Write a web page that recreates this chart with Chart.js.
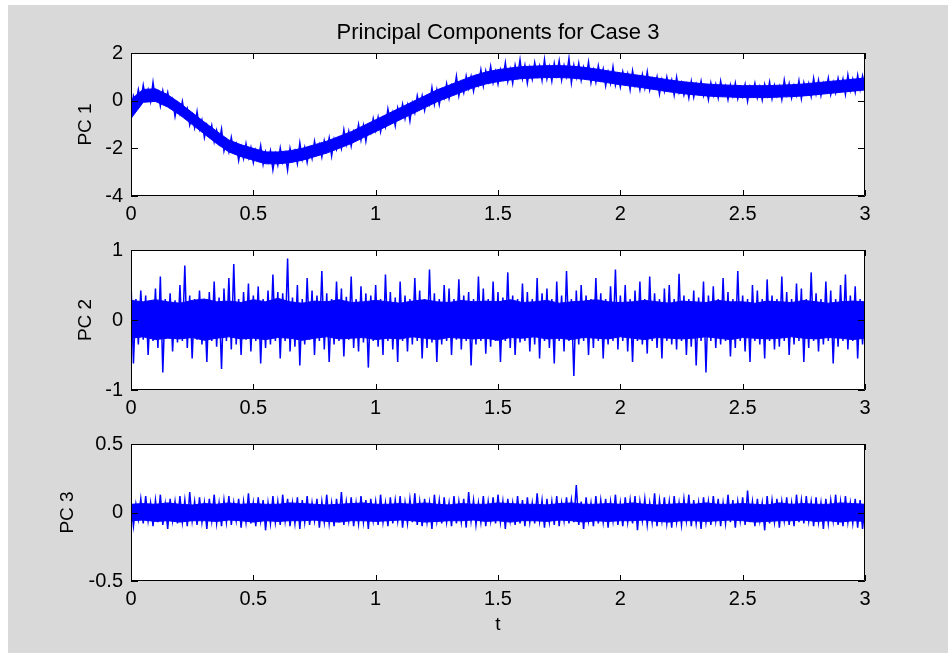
<!DOCTYPE html>
<html>
<head>
<meta charset="utf-8">
<script src="https://cdn.jsdelivr.net/npm/chart.js@4/dist/chart.umd.min.js"></script>
<style>
  html, body { margin: 0; padding: 0; background: #ffffff; }
  body { width: 948px; height: 653px; position: relative; overflow: hidden; }
  #fig { position: absolute; left: 8px; top: 5px; width: 940px; height: 648px; background: #d9d9d9; }
  canvas { position: absolute; left: 0; }
</style>
</head>
<body>
<div id="fig"></div>
<canvas id="pc1" width="948" height="230" style="top:0px"></canvas>
<canvas id="pc2" width="948" height="194" style="top:230px"></canvas>
<canvas id="pc3" width="948" height="229" style="top:424px"></canvas>
<script>
// Sample spacing of the traces and of the dense-core envelopes (seconds)
const sampleStep = 0.01;
const envelopeStep = 0.05;

// Tick positions
const tTicks = [0, 0.5, 1, 1.5, 2, 2.5, 3];
const pc1Ticks = [-4, -2, 0, 2];
const pc2Ticks = [-1, 0, 1];
const pc3Ticks = [-0.5, 0, 0.5];

// Principal component 1 trace
const pc1 = [
  -0.85, 0.2, -0.1, 0.47, -0.03, 0.65, 0.08, 0.46, -0.03, 0.77,
  0.05, 0.37, -0.22, 0.42, -0.04, 0.35, -0.22, 0.06, -0.66, -0.13,
  -0.55, -0.03, -0.66, -0.34, -1.02, -0.6, -1.13, -0.46, -1.19, -0.82,
  -1.55, -1.03, -1.46, -1.04, -1.72, -1.25, -1.77, -1.19, -2.11, -1.68,
  -2.15, -1.54, -2.13, -1.82, -2.51, -1.95, -2.43, -1.81, -2.39, -1.97,
  -2.6, -2.08, -2.46, -1.89, -2.67, -2.15, -2.55, -2.1, -2.9, -2.25,
  -2.7, -1.99, -2.58, -2.22, -2.91, -2.0, -2.48, -2.11, -2.64, -1.77,
  -2.45, -1.97, -2.59, -2.01, -2.43, -1.7, -2.22, -1.84, -2.36, -1.68,
  -2.1, -1.56, -2.32, -1.63, -2.04, -1.6, -2.01, -1.22, -1.83, -1.29,
  -1.9, -1.3, -1.6, -1.0, -1.65, -1.05, -1.7, -1.05, -1.35, -0.75,
  -1.25, -0.7, -1.3, -0.75, -1.1, -0.35, -0.9, -0.5, -1.05, -0.3,
  -0.7, -0.15, -0.75, -0.2, -0.85, -0.1, -0.5, 0.2, -0.3, 0.2,
  -0.4, 0.15, -0.15, 0.55, -0.15, 0.45, -0.16, 0.43, 0.12, 0.71,
  0.1, 0.64, 0.33, 1.02, 0.21, 0.75, 0.34, 1.03, 0.52, 1.01,
  0.4, 0.98, 0.66, 1.29, 0.62, 1.25, 0.82, 1.44, 0.76, 1.23,
  0.7, 1.31, 0.93, 1.59, 0.81, 1.32, 0.73, 1.49, 1.01, 1.72,
  0.93, 1.48, 0.74, 1.39, 0.9, 1.6, 1.05, 1.46, 0.86, 1.72,
  0.92, 1.42, 0.82, 1.57, 1.07, 1.67, 0.87, 1.47, 1.02, 1.77,
  0.75, 1.49, 0.98, 1.57, 0.86, 1.4, 0.99, 1.62, 0.76, 1.29,
  0.78, 1.46, 0.9, 1.33, 0.62, 1.2, 0.73, 1.42, 0.65, 1.09,
  0.57, 1.21, 0.74, 1.13, 0.46, 1.25, 0.64, 0.97, 0.46, 1.09,
  0.53, 1.21, 0.45, 0.93, 0.57, 1.0, 0.28, 0.87, 0.4, 0.99,
  0.47, 0.86, 0.24, 0.98, 0.36, 0.75, 0.24, 0.68, 0.12, 0.81,
  0.15, 0.69, 0.33, 0.82, 0.21, 0.6, 0.04, 0.74, 0.23, 0.68,
  0.12, 0.82, 0.26, 0.61, 0.05, 0.65, 0.2, 0.74, 0.09, 0.53,
  0.18, 0.68, -0.02, 0.58, 0.23, 0.73, 0.13, 0.58, 0.03, 0.68,
  0.23, 0.78, 0.09, 0.64, 0.2, 0.6, 0.05, 0.86, 0.26, 0.72,
  0.12, 0.63, 0.23, 0.84, 0.09, 0.75, 0.31, 0.72, 0.18, 0.94,
  0.3, 0.86, 0.22, 0.73, 0.39, 0.95, 0.26, 0.77, 0.33, 0.94,
  0.45, 0.91, 0.27, 1.08, 0.44, 0.9, 0.36, 1.07, 0.48, 1.04,
  0.55
];
// Principal component 1 dense core: upper and lower edges
const pc1Upper = [
  0.05, 0.47, 0.5, 0.25, -0.1, -0.5, -0.9, -1.28, -1.65, -1.85,
  -2.0, -2.15, -2.15, -2.1, -2.0, -1.85, -1.7, -1.5, -1.3, -1.05,
  -0.8, -0.55, -0.3, -0.05, 0.2, 0.45, 0.65, 0.85, 1.05, 1.2,
  1.3, 1.37, 1.43, 1.45, 1.47, 1.47, 1.45, 1.4, 1.33, 1.25,
  1.17, 1.1, 1.03, 0.95, 0.87, 0.8, 0.75, 0.7, 0.67, 0.65,
  0.63, 0.63, 0.63, 0.65, 0.67, 0.7, 0.75, 0.8, 0.85, 0.9,
  0.95
];
const pc1Lower = [
  -0.75, -0.07, -0.03, -0.27, -0.6, -1.0, -1.4, -1.8, -2.15, -2.35,
  -2.5, -2.65, -2.65, -2.6, -2.5, -2.35, -2.2, -2.0, -1.8, -1.55,
  -1.3, -1.05, -0.8, -0.55, -0.3, -0.05, 0.15, 0.35, 0.55, 0.7,
  0.8, 0.87, 0.93, 0.95, 0.97, 0.97, 0.95, 0.9, 0.83, 0.75,
  0.67, 0.6, 0.53, 0.45, 0.37, 0.3, 0.25, 0.2, 0.17, 0.15,
  0.13, 0.13, 0.13, 0.15, 0.17, 0.2, 0.25, 0.3, 0.35, 0.4,
  0.45
];

// Principal component 2 trace
const pc2 = [
  0.55, -0.62, 0.3, -0.35, 0.42, -0.28, 0.35, -0.5, 0.25, -0.3,
  0.45, -0.4, 0.62, -0.75, 0.3, -0.25, 0.38, -0.45, 0.28, -0.32,
  0.5, -0.3, 0.78, -0.4, 0.35, -0.55, 0.3, -0.28, 0.42, -0.35,
  0.28, -0.6, 0.4, -0.3, 0.55, -0.38, 0.32, -0.7, 0.45, -0.3,
  0.6, -0.42, 0.8, -0.35, 0.3, -0.5, 0.4, -0.28, 0.52, -0.45,
  0.35, -0.3, 0.48, -0.62, 0.3, -0.4, 0.42, -0.35, 0.65, -0.3,
  0.4, -0.55, 0.38, -0.3, 0.88, -0.45, 0.32, -0.38, 0.5, -0.65,
  0.3, -0.35, 0.6, -0.28, 0.42, -0.5, 0.35, -0.3, 0.7, -0.42,
  0.38, -0.6, 0.3, -0.35, 0.55, -0.3, 0.45, -0.52, 0.33, -0.28,
  0.62, -0.4, 0.3, -0.45, 0.48, -0.32, 0.38, -0.68, 0.35, -0.3,
  0.5, -0.38, 0.3, -0.5, 0.65, -0.3, 0.4, -0.42, 0.32, -0.6,
  0.55, -0.3, 0.35, -0.45, 0.3, -0.35, 0.6, -0.3, 0.42, -0.55,
  0.3, -0.4, 0.72, -0.32, 0.38, -0.6, 0.3, -0.35, 0.5, -0.3,
  0.45, -0.5, 0.3, -0.28, 0.58, -0.42, 0.35, -0.3, 0.4, -0.65,
  0.3, -0.35, 0.62, -0.3, 0.45, -0.48, 0.3, -0.38, 0.55, -0.3,
  0.4, -0.6, 0.32, -0.3, 0.68, -0.4, 0.35, -0.5, 0.3, -0.32,
  0.52, -0.3, 0.4, -0.45, 0.3, -0.35, 0.6, -0.55, 0.38, -0.3,
  0.45, -0.4, 0.3, -0.62, 0.55, -0.3, 0.35, -0.45, 0.7, -0.3,
  0.3, -0.8, 0.42, -0.35, 0.5, -0.3, 0.35, -0.5, 0.3, -0.4,
  0.6, -0.3, 0.38, -0.55, 0.3, -0.35, 0.48, -0.3, 0.72, -0.42,
  0.35, -0.3, 0.5, -0.45, 0.3, -0.6, 0.42, -0.3, 0.55, -0.35,
  0.3, -0.48, 0.62, -0.3, 0.38, -0.4, 0.3, -0.55, 0.45, -0.3,
  0.5, -0.35, 0.3, -0.42, 0.66, -0.3, 0.35, -0.5, 0.3, -0.38,
  0.42, -0.65, 0.32, -0.3, 0.55, -0.75, 0.35, -0.3, 0.48, -0.4,
  0.3, -0.35, 0.6, -0.3, 0.4, -0.52, 0.3, -0.4, 0.7, -0.3,
  0.35, -0.45, 0.3, -0.6, 0.5, -0.3, 0.42, -0.35, 0.3, -0.55,
  0.58, -0.3, 0.35, -0.42, 0.3, -0.38, 0.62, -0.3, 0.4, -0.5,
  0.3, -0.35, 0.52, -0.3, 0.45, -0.6, 0.3, -0.4, 0.68, -0.3,
  0.38, -0.45, 0.3, -0.35, 0.55, -0.3, 0.42, -0.62, 0.3, -0.38,
  0.5, -0.3, 0.65, -0.42, 0.35, -0.3, 0.48, -0.55, 0.3, -0.35,
  0.25
];
// Principal component 2 dense core: upper and lower edges
const pc2Upper = [
  0.28, 0.26, 0.29, 0.26, 0.24, 0.28, 0.3, 0.26, 0.27, 0.25,
  0.29, 0.26, 0.31, 0.26, 0.24, 0.27, 0.26, 0.29, 0.25, 0.26,
  0.28, 0.26, 0.24, 0.27, 0.29, 0.26, 0.25, 0.28, 0.26, 0.27,
  0.26, 0.29, 0.25, 0.26, 0.28, 0.24, 0.26, 0.27, 0.29, 0.26,
  0.25, 0.26, 0.28, 0.26, 0.24, 0.27, 0.26, 0.25, 0.28, 0.26,
  0.26, 0.24, 0.27, 0.26, 0.25, 0.28, 0.26, 0.24, 0.26, 0.27,
  0.26
];
const pc2Lower = [
  -0.26, -0.24, -0.28, -0.26, -0.27, -0.25, -0.29, -0.26, -0.24, -0.27,
  -0.26, -0.28, -0.25, -0.26, -0.29, -0.26, -0.24, -0.27, -0.26, -0.25,
  -0.28, -0.26, -0.27, -0.24, -0.26, -0.28, -0.25, -0.26, -0.27, -0.26,
  -0.29, -0.25, -0.26, -0.24, -0.27, -0.26, -0.28, -0.25, -0.26, -0.27,
  -0.24, -0.26, -0.28, -0.25, -0.26, -0.27, -0.26, -0.24, -0.26, -0.28,
  -0.25, -0.26, -0.27, -0.26, -0.24, -0.26, -0.27, -0.25, -0.26, -0.28,
  -0.26
];

// Principal component 3 trace
const pc3 = [
  0.08, -0.1, 0.06, -0.05, 0.1, -0.08, 0.12, -0.06, 0.07, -0.1,
  0.09, -0.07, 0.13, -0.09, 0.06, -0.12, 0.1, -0.06, 0.08, -0.08,
  0.12, -0.07, 0.09, -0.1, 0.15, -0.06, 0.08, -0.09, 0.11, -0.07,
  0.07, -0.12, 0.1, -0.06, 0.13, -0.08, 0.07, -0.1, 0.09, -0.07,
  0.12, -0.09, 0.07, -0.06, 0.1, -0.11, 0.08, -0.07, 0.14, -0.08,
  0.07, -0.1, 0.11, -0.06, 0.09, -0.13, 0.07, -0.08, 0.12, -0.07,
  0.08, -0.09, 0.13, -0.06, 0.1, -0.1, 0.07, -0.08, 0.11, -0.12,
  0.09, -0.07, 0.12, -0.09, 0.07, -0.06, 0.1, -0.11, 0.08, -0.07,
  0.13, -0.08, 0.07, -0.1, 0.1, -0.07, 0.15, -0.09, 0.08, -0.06,
  0.11, -0.1, 0.07, -0.08, 0.12, -0.07, 0.09, -0.12, 0.1, -0.06,
  0.08, -0.09, 0.13, -0.07, 0.07, -0.1, 0.11, -0.08, 0.09, -0.06,
  0.12, -0.11, 0.07, -0.08, 0.1, -0.07, 0.14, -0.09, 0.08, -0.1,
  0.1, -0.07, 0.07, -0.12, 0.13, -0.06, 0.09, -0.08, 0.11, -0.07,
  0.07, -0.1, 0.12, -0.08, 0.08, -0.07, 0.1, -0.11, 0.15, -0.06,
  0.09, -0.09, 0.07, -0.07, 0.12, -0.1, 0.08, -0.06, 0.11, -0.08,
  0.13, -0.07, 0.08, -0.12, 0.1, -0.06, 0.07, -0.09, 0.12, -0.08,
  0.09, -0.1, 0.11, -0.07, 0.07, -0.08, 0.14, -0.06, 0.09, -0.11,
  0.1, -0.07, 0.08, -0.09, 0.12, -0.1, 0.07, -0.06, 0.11, -0.08,
  0.09, -0.07, 0.2, -0.09, 0.08, -0.12, 0.11, -0.06, 0.07, -0.1,
  0.12, -0.08, 0.09, -0.07, 0.1, -0.11, 0.08, -0.06, 0.13, -0.09,
  0.07, -0.1, 0.11, -0.07, 0.09, -0.08, 0.12, -0.13, 0.08, -0.06,
  0.1, -0.09, 0.07, -0.07, 0.14, -0.1, 0.09, -0.06, 0.11, -0.08,
  0.08, -0.11, 0.12, -0.07, 0.07, -0.09, 0.1, -0.06, 0.13, -0.1,
  0.09, -0.08, 0.07, -0.12, 0.11, -0.07, 0.08, -0.09, 0.12, -0.06,
  0.1, -0.1, 0.07, -0.08, 0.13, -0.07, 0.09, -0.11, 0.08, -0.06,
  0.11, -0.09, 0.16, -0.07, 0.08, -0.1, 0.1, -0.06, 0.07, -0.13,
  0.12, -0.08, 0.09, -0.07, 0.1, -0.11, 0.08, -0.06, 0.11, -0.09,
  0.07, -0.1, 0.13, -0.07, 0.09, -0.08, 0.12, -0.06, 0.08, -0.1,
  0.11, -0.07, 0.07, -0.12, 0.1, -0.08, 0.09, -0.06, 0.13, -0.09,
  0.08, -0.1, 0.12, -0.07, 0.07, -0.08, 0.1, -0.11, 0.09, -0.12,
  0.06
];
// Principal component 3 dense core: upper and lower edges
const pc3Upper = [
  0.06, 0.065, 0.06, 0.07, 0.06, 0.055, 0.065, 0.06, 0.07, 0.06,
  0.065, 0.06, 0.06, 0.07, 0.065, 0.06, 0.055, 0.06, 0.065, 0.07,
  0.06, 0.06, 0.065, 0.06, 0.07, 0.06, 0.055, 0.065, 0.06, 0.06,
  0.07, 0.065, 0.06, 0.06, 0.055, 0.065, 0.07, 0.06, 0.06, 0.065,
  0.06, 0.07, 0.06, 0.055, 0.06, 0.065, 0.06, 0.07, 0.06, 0.06,
  0.065, 0.06, 0.055, 0.07, 0.06, 0.065, 0.06, 0.06, 0.07, 0.065,
  0.06
];
const pc3Lower = [
  -0.06, -0.055, -0.065, -0.06, -0.07, -0.06, -0.06, -0.065, -0.055, -0.06,
  -0.07, -0.06, -0.065, -0.06, -0.06, -0.055, -0.065, -0.07, -0.06, -0.06,
  -0.065, -0.06, -0.055, -0.06, -0.07, -0.065, -0.06, -0.06, -0.055, -0.065,
  -0.06, -0.07, -0.06, -0.06, -0.065, -0.055, -0.06, -0.07, -0.06, -0.065,
  -0.06, -0.06, -0.055, -0.065, -0.07, -0.06, -0.06, -0.065, -0.06, -0.055,
  -0.06, -0.07, -0.065, -0.06, -0.06, -0.055, -0.065, -0.06, -0.07, -0.06,
  -0.065
];

const TRACE_COLOR = '#0000ff';
const FONT_FAMILY = '"Liberation Sans", Arial, Helvetica, sans-serif';
const TICK_FONT = { family: FONT_FAMILY, size: 20 };
const LABEL_FONT = '19px ' + FONT_FAMILY;
const TITLE_FONT = '22px ' + FONT_FAMILY;

// White axes background, black box, inward tick marks and text labels
const axesPlugin = {
  id: 'matlabAxes',
  beforeDraw(chart) {
    const { ctx, chartArea: a } = chart;
    ctx.save();
    ctx.fillStyle = '#ffffff';
    ctx.fillRect(a.left, a.top, a.right - a.left, a.bottom - a.top);
    ctx.restore();
  },
  afterDraw(chart) {
    const { ctx, chartArea: a, scales } = chart;
    const o = chart.options.plugins.matlabAxes;
    ctx.save();
    ctx.strokeStyle = '#000000';
    ctx.lineWidth = 1;
    ctx.beginPath();
    ctx.rect(a.left + 0.5, a.top + 0.5, a.right - a.left - 1, a.bottom - a.top - 1);
    scales.x.ticks.forEach(t => {
      const px = Math.round(scales.x.getPixelForValue(t.value)) + 0.5;
      ctx.moveTo(px, a.bottom); ctx.lineTo(px, a.bottom - 6);
      ctx.moveTo(px, a.top); ctx.lineTo(px, a.top + 6);
    });
    scales.y.ticks.forEach(t => {
      const py = Math.round(scales.y.getPixelForValue(t.value)) + 0.5;
      ctx.moveTo(a.left, py); ctx.lineTo(a.left + 7, py);
      ctx.moveTo(a.right, py); ctx.lineTo(a.right - 7, py);
    });
    ctx.stroke();

    ctx.fillStyle = '#000000';
    ctx.textAlign = 'center';
    ctx.textBaseline = 'middle';
    ctx.font = LABEL_FONT;
    ctx.save();
    ctx.translate(o.yLabelX, (a.top + a.bottom) / 2);
    ctx.rotate(-Math.PI / 2);
    ctx.fillText(o.yLabel, 0, 0);
    ctx.restore();
    if (o.xLabel) ctx.fillText(o.xLabel, (a.left + a.right) / 2, o.xLabelY);
    if (o.title) {
      ctx.font = TITLE_FONT;
      ctx.fillText(o.title, (a.left + a.right) / 2, o.titleY);
    }
    ctx.restore();
  }
};

function toPoints(values, step) {
  return values.map((v, i) => ({ x: i * step, y: v }));
}

function makePanel(id, trace, upper, lower, yTicks, opts) {
  return new Chart(document.getElementById(id), {
    type: 'line',
    data: {
      datasets: [
        { // core edges, filled between
          data: toPoints(upper, envelopeStep),
          borderColor: TRACE_COLOR, backgroundColor: TRACE_COLOR,
          borderWidth: 1, pointRadius: 0, tension: 0, fill: '+1'
        },
        {
          data: toPoints(lower, envelopeStep),
          borderColor: TRACE_COLOR, backgroundColor: TRACE_COLOR,
          borderWidth: 1, pointRadius: 0, tension: 0, fill: false
        },
        { // sampled trace
          data: toPoints(trace, sampleStep),
          borderColor: TRACE_COLOR,
          borderWidth: 1.5, pointRadius: 0, tension: 0, fill: false
        }
      ]
    },
    options: {
      responsive: false,
      animation: false,
      events: [],
      layout: { padding: { left: 0, right: 83, top: opts.padTop, bottom: opts.padBottom } },
      plugins: {
        legend: { display: false },
        tooltip: { enabled: false },
        filler: { propagate: false },
        matlabAxes: opts
      },
      scales: {
        x: {
          type: 'linear',
          min: tTicks[0],
          max: tTicks[tTicks.length - 1],
          afterBuildTicks: s => { s.ticks = tTicks.map(v => ({ value: v })); },
          afterFit: s => { s.height = 34; },
          grid: { display: false, drawTicks: false },
          border: { display: false },
          ticks: {
            color: '#000000', font: TICK_FONT, padding: 6,
            maxRotation: 0, autoSkip: false,
            callback: v => String(v)
          }
        },
        y: {
          type: 'linear',
          min: yTicks[0],
          max: yTicks[yTicks.length - 1],
          afterBuildTicks: s => { s.ticks = yTicks.map(v => ({ value: v })); },
          afterFit: s => { s.width = 131; },
          grid: { display: false, drawTicks: false },
          border: { display: false },
          ticks: {
            color: '#000000', font: TICK_FONT, padding: 8,
            autoSkip: false,
            callback: v => String(v)
          }
        }
      }
    },
    plugins: [axesPlugin]
  });
}

makePanel('pc1', pc1, pc1Upper, pc1Lower, pc1Ticks, {
  padTop: 53, padBottom: 0, yLabel: 'PC 1', yLabelX: 86,
  title: 'Principal Components for Case 3', titleY: 33
});
makePanel('pc2', pc2, pc2Upper, pc2Lower, pc2Ticks, {
  padTop: 16, padBottom: 0, yLabel: 'PC 2', yLabelX: 86
});
makePanel('pc3', pc3, pc3Upper, pc3Lower, pc3Ticks, {
  padTop: 13, padBottom: 38, yLabel: 'PC 3', yLabelX: 68,
  xLabel: 't', xLabelY: 201
});
</script>
</body>
</html>
